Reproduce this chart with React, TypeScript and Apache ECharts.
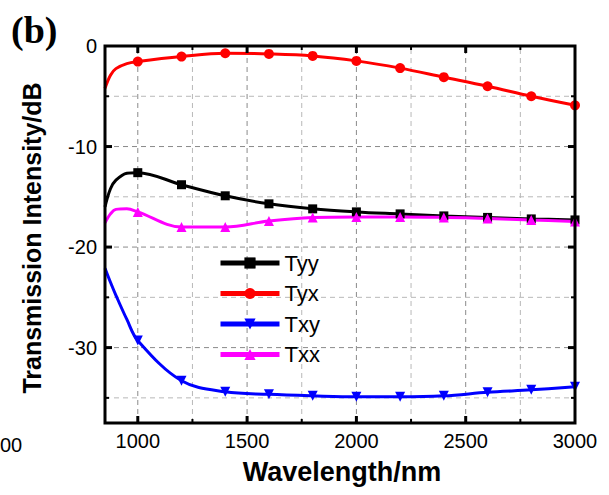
import React, { useEffect, useRef } from "react";
import * as echarts from "echarts";

const wavelengths = [850, 875, 900, 950, 1000, 1200, 1400, 1600, 1800, 2000, 2200, 2400, 2600, 2800, 3000];
const tyy = [-16.0, -14.2, -13.35, -12.65, -12.6, -13.8, -14.9, -15.7, -16.2, -16.5, -16.7, -16.9, -17.05, -17.2, -17.3];
const tyx = [-4.2, -2.9, -2.25, -1.75, -1.55, -1.05, -0.72, -0.79, -0.99, -1.48, -2.2, -3.1, -4.0, -5.0, -5.9];
const txy = [-22.1, -23.5, -24.8, -27.2, -29.3, -33.3, -34.4, -34.65, -34.8, -34.9, -34.9, -34.8, -34.45, -34.2, -33.9];
const txx = [-17.6, -16.7, -16.25, -16.2, -16.5, -18.0, -18.0, -17.4, -17.05, -17.0, -17.0, -17.05, -17.15, -17.3, -17.45];

const X_MIN = 850;
const X_MAX = 3000;
const Y_MIN = -37.5;
const Y_MAX = 0;

const xLabels = [1000, 1500, 2000, 2500, 3000];
const yLabels = [-30, -20, -10, 0];
const xTickValues = [1000, 1250, 1500, 1750, 2000, 2250, 2500, 2750];
const xTickMajor = [1, 0, 1, 0, 1, 0, 1, 0];
const yTickValues = [-35, -30, -25, -20, -15, -10, -5];
const yTickMajor = [0, 1, 0, 1, 0, 1, 0];

const FONT = "'Liberation Sans', Arial, sans-serif";

function buildData(vals: number[]) {
  return wavelengths.map((x, i) => {
    const marked = x >= 1000 && (x - 1000) % 200 === 0;
    return marked ? { value: [x, vals[i]] } : { value: [x, vals[i]], symbol: "none" };
  });
}

const textEls: any[] = [
  {
    type: "text",
    left: 11,
    top: 11,
    style: { text: "(b)", font: "bold 38px 'Liberation Serif', 'Times New Roman', serif", fill: "#000" },
  },
  {
    type: "text",
    x: 342,
    y: 472,
    style: { text: "Wavelength/nm", font: `bold 27px ${FONT}`, fill: "#000", align: "center", verticalAlign: "middle" },
  },
  {
    type: "text",
    x: 32,
    y: 238,
    rotation: Math.PI / 2,
    style: { text: "Transmission Intensity/dB", font: `bold 25px ${FONT}`, fill: "#000", align: "center", verticalAlign: "middle" },
  },
  {
    type: "text",
    x: 0,
    y: 445,
    style: { text: "00", font: `20px ${FONT}`, fill: "#000", align: "left", verticalAlign: "middle" },
  },
];

function makeOption() {
  const mk = (name: string, vals: number[], color: string, symbol: string, size: number, rotate = 0) => ({
    name,
    type: "line",
    data: buildData(vals),
    smooth: 0.35,
    showAllSymbol: true,
    symbol,
    symbolSize: size,
    symbolRotate: rotate,
    lineStyle: { color, width: 3 },
    itemStyle: { color },
    z: 3,
  });
  const lab = (vals: number[]) => ({
    show: true,
    customValues: vals,
    fontSize: 20,
    color: "#000",
    fontFamily: FONT,
    formatter: (v: number) => String(v),
  });
  return {
    animation: false,
    grid: { left: 105, right: 34, top: 46, bottom: 72 },
    xAxis: {
      type: "value",
      min: X_MIN,
      max: X_MAX,
      axisLine: { show: false, onZero: false },
      axisTick: { show: false },
      splitLine: { show: false },
      axisLabel: lab(xLabels),
    },
    yAxis: {
      type: "value",
      min: Y_MIN,
      max: Y_MAX,
      axisLine: { show: false, onZero: false },
      axisTick: { show: false },
      splitLine: { show: false },
      axisLabel: lab(yLabels),
    },
    legend: {
      orient: "vertical",
      left: 218,
      top: 252,
      padding: 0,
      itemWidth: 59,
      itemHeight: 14,
      itemGap: 8.5,
      lineStyle: { width: 5 },
      textStyle: { fontSize: 22, color: "#000", fontFamily: FONT },
      data: ["Tyy", "Tyx", "Txy", "Txx"],
    },
    series: [
      mk("Tyy", tyy, "#000000", "rect", 9),
      mk("Tyx", tyx, "#ff0000", "circle", 10),
      mk("Txy", txy, "#0000ff", "triangle", 10, 180),
      mk("Txx", txx, "#ff00ff", "triangle", 10),
    ],
    graphic: textEls,
  };
}

function Chart() {
  const ref = useRef<HTMLDivElement>(null);
  useEffect(() => {
    if (!ref.current) return;
    const chart = echarts.init(ref.current, null, { renderer: "svg" });
    chart.setOption(makeOption() as any);

    const px = (x: number, y: number) => chart.convertToPixel({ gridIndex: 0 }, [x, y]) as number[];
    const gridStyle = (major: number) => ({
      stroke: major ? "#8a8a8a" : "#b8b8b8",
      lineWidth: 1,
      lineDash: [5, 4],
    });
    const tickStyle = (major: number) => ({ stroke: "#000", lineWidth: major ? 3 : 2 });
    const els: any[] = [];
    xTickValues.forEach((v, i) => {
      const major = xTickMajor[i];
      const b = px(v, Y_MIN);
      const t = px(v, Y_MAX);
      const len = major ? 7 : 4;
      els.push({ type: "line", z: 1, silent: true, shape: { x1: b[0], y1: b[1], x2: t[0], y2: t[1] }, style: gridStyle(major) });
      els.push({ type: "line", z: 10, silent: true, shape: { x1: b[0], y1: b[1], x2: b[0], y2: b[1] - len }, style: tickStyle(major) });
      els.push({ type: "line", z: 10, silent: true, shape: { x1: t[0], y1: t[1], x2: t[0], y2: t[1] + len }, style: tickStyle(major) });
    });
    yTickValues.forEach((v, i) => {
      const major = yTickMajor[i];
      const l = px(X_MIN, v);
      const r = px(X_MAX, v);
      const len = major ? 7 : 4;
      els.push({ type: "line", z: 1, silent: true, shape: { x1: l[0], y1: l[1], x2: r[0], y2: r[1] }, style: gridStyle(major) });
      els.push({ type: "line", z: 10, silent: true, shape: { x1: l[0], y1: l[1], x2: l[0] + len, y2: l[1] }, style: tickStyle(major) });
      els.push({ type: "line", z: 10, silent: true, shape: { x1: r[0], y1: r[1], x2: r[0] - len, y2: r[1] }, style: tickStyle(major) });
    });
    const tl = px(X_MIN, Y_MAX);
    const br = px(X_MAX, Y_MIN);
    els.push({
      type: "rect",
      z: 10,
      silent: true,
      shape: { x: tl[0], y: tl[1], width: br[0] - tl[0], height: br[1] - tl[1] },
      style: { fill: "none", stroke: "#000", lineWidth: 3 },
    });
    chart.setOption({ graphic: [...textEls, ...els] } as any);
    return () => chart.dispose();
  }, []);
  return <div ref={ref} style={{ width: 609, height: 495, display: "inline-block", verticalAlign: "top" }} />;
}

export default function App() {
  return (
    <div style={{ position: "absolute", left: 0, top: 0, width: 609, height: 495, background: "#fff", fontSize: 0 }}>
      <Chart />
    </div>
  );
}
